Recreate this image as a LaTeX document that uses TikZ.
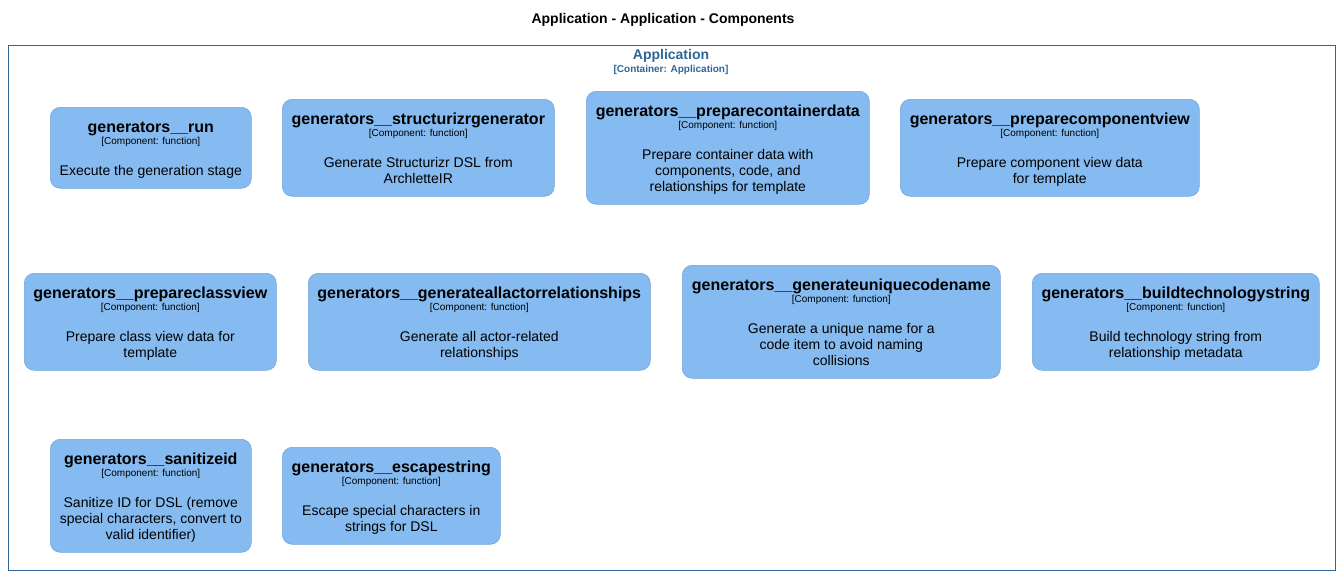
\documentclass[tikz,border=0pt]{standalone}
\usepackage{fontspec}
\setmainfont{Liberation Sans}
\definecolor{compfill}{HTML}{85BBF0}
\definecolor{compline}{HTML}{73A5DA}
\definecolor{boundary}{HTML}{2F6597}
\tikzset{
  compnode/.style={draw=compline, fill=compfill, line width=0.6pt, rounded corners=10pt,
    inner sep=0pt, anchor=north west},
  comptitle/.style={anchor=base, inner sep=0pt, font=\fontsize{16}{19}\selectfont\bfseries},
  complabel/.style={anchor=base, inner sep=0pt, font=\fontsize{10}{12}\selectfont},
  compdesc/.style={anchor=north, inner sep=0pt, align=center, font=\fontsize{14}{16}\selectfont},
}
\newcommand{\compbox}[7]{%
  \node[compnode, minimum width=#4pt, minimum height=#5pt] (#1) at (#2,#3) {};
  \node[comptitle] (#1-t) at ([yshift=-25pt]#1.north) {#6};
  \node[complabel] (#1-l) at ([yshift=-37pt]#1.north) {[Component: function]};
  \node[compdesc] (#1-d) at ([yshift=-57.8pt]#1.north) {#7};
}
\begin{document}
\begin{tikzpicture}[x=1pt,y=-1pt]
\useasboundingbox (0,0) rectangle (1340,573);
\node[anchor=base, inner sep=0pt, font=\fontsize{14}{16}\selectfont\bfseries] (title) at (663,23) {Application - Application - Components};
\node[draw=boundary, line width=1.2pt, inner sep=0pt, anchor=north west, minimum width=1327pt, minimum height=525pt] (container) at (7.5,44.5) {};
\node[anchor=base, inner sep=0pt, text=boundary, font=\fontsize{14}{16}\selectfont\bfseries] (ctitle) at (671,59) {Application};
\node[anchor=base, inner sep=0pt, text=boundary, font=\fontsize{10}{12}\selectfont\bfseries] (clabel) at (671,72) {[Container: Application]};
\compbox{run}{50}{107}{201}{81}{generators\_\_run}{Execute the generation stage}
\compbox{structurizr}{282}{99}{272}{97}{generators\_\_structurizrgenerator}{Generate Structurizr DSL from\\ArchletteIR}
\compbox{containerdata}{586}{91}{283}{113}{generators\_\_preparecontainerdata}{Prepare container data with\\components, code, and\\relationships for template}
\compbox{componentview}{900}{99}{299}{97}{generators\_\_preparecomponentview}{Prepare component view data\\for template}
\compbox{classview}{24}{273}{252}{97}{generators\_\_prepareclassview}{Prepare class view data for\\template}
\compbox{actorrel}{308}{273}{342}{97}{generators\_\_generateallactorrelationships}{Generate all actor-related\\relationships}
\compbox{uniquename}{682}{265}{318}{113}{generators\_\_generateuniquecodename}{Generate a unique name for a\\code item to avoid naming\\collisions}
\compbox{buildtech}{1032}{273}{287}{97}{generators\_\_buildtechnologystring}{Build technology string from\\relationship metadata}
\compbox{sanitize}{50}{439}{201}{113}{generators\_\_sanitizeid}{Sanitize ID for DSL (remove\\special characters, convert to\\valid identifier)}
\compbox{escape}{282}{447}{218}{97}{generators\_\_escapestring}{Escape special characters in\\strings for DSL}
\end{tikzpicture}
\end{document}
